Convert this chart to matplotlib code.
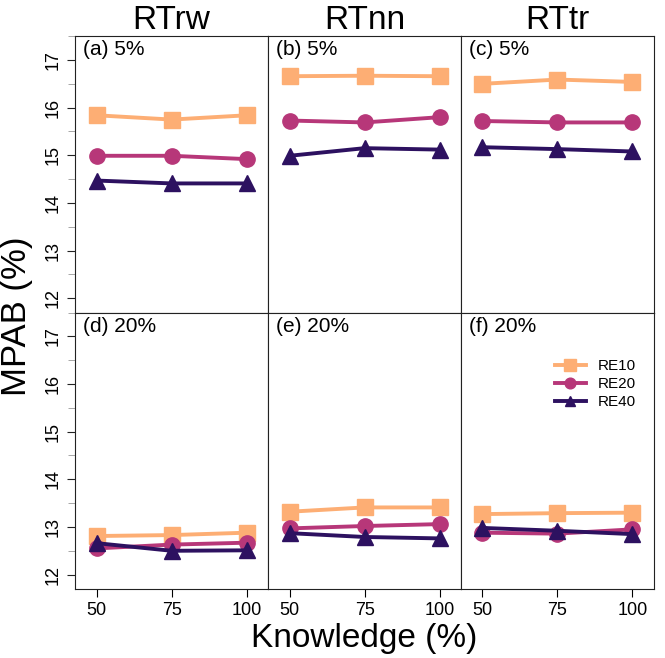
import numpy as np
import matplotlib
matplotlib.use('Agg')
import matplotlib.pyplot as plt
from matplotlib.ticker import MultipleLocator

plt.rcParams['font.family'] = ['Liberation Sans', 'DejaVu Sans']

knowledge = [50, 75, 100]
methods = ['RTrw', 'RTnn', 'RTtr']
rates = ['5%', '20%']
series = ['RE10', 'RE20', 'RE40']

# MPAB values, rows = error rate (5%, 20%), cols = method
re10 = [[[15.84, 15.75, 15.84], [16.66, 16.67, 16.66], [16.50, 16.59, 16.54]],
        [[12.81, 12.83, 12.88], [13.32, 13.41, 13.41], [13.27, 13.29, 13.30]]]
re20 = [[[14.99, 14.99, 14.92], [15.73, 15.69, 15.80], [15.72, 15.69, 15.69]],
        [[12.55, 12.63, 12.67], [12.97, 13.02, 13.06], [12.88, 12.86, 12.95]]]
re40 = [[[14.47, 14.41, 14.41], [14.99, 15.15, 15.12], [15.17, 15.13, 15.08]],
        [[12.66, 12.50, 12.51], [12.87, 12.79, 12.76], [12.98, 12.92, 12.85]]]

colors = ['#FDAE74', '#B73779', '#2D1160']
markers = ['s', 'o', '^']

fig, axes = plt.subplots(2, 3, figsize=(6.65, 6.58), dpi=100, sharex=True, sharey=True)
fig.subplots_adjust(left=0.113, right=0.983, top=0.945, bottom=0.105, wspace=0, hspace=0)

letters = 'abcdef'
for r in range(2):
    for c in range(3):
        ax = axes[r, c]
        for data, col, mk, name in zip([re10, re20, re40], colors, markers, series):
            ax.plot(knowledge, data[r][c], color=col, marker=mk, lw=2.8,
                    markersize=11.5 if mk == 's' else 11, label=name)
        ax.set_xlim(42.8, 107.1)
        ax.set_ylim(11.7, 17.5)
        ax.text(0.04, 0.985, '(%s) %s' % (letters[r * 3 + c], rates[r]),
                transform=ax.transAxes, ha='left', va='top', fontsize=15)
        for s in ax.spines.values():
            s.set_color('#222222')
        ax.tick_params(which='both', direction='out', labelsize=13)
        ax.yaxis.set_major_locator(MultipleLocator(1))
        ax.yaxis.set_minor_locator(MultipleLocator(0.5))
        ax.set_xticks(knowledge)
        if c != 0:
            ax.tick_params(axis='y', which='both', left=False, labelleft=False)
        else:
            ax.tick_params(axis='y', which='major', length=6, color='#222222')
            ax.tick_params(axis='y', which='minor', length=5, color='#999999')
            for lab in ax.get_yticklabels():
                lab.set_rotation(90)
                lab.set_va('center')
        if r == 0:
            ax.tick_params(axis='x', bottom=False, labelbottom=False)
            ax.set_title(methods[c], fontsize=24, pad=4)
        else:
            ax.tick_params(axis='x', length=6)

axes[1, 2].legend(loc='upper right', bbox_to_anchor=(0.98, 0.88), frameon=False,
                  fontsize=11, handlelength=2.0, labelspacing=0.25, markerscale=0.7)

fig.text(0.025, 0.52, 'MPAB (%)', rotation=90, fontsize=25, ha='center', va='center')
fig.text(0.548, 0.03, 'Knowledge (%)', fontsize=24, ha='center', va='center')

plt.savefig('out.png', dpi=100)
